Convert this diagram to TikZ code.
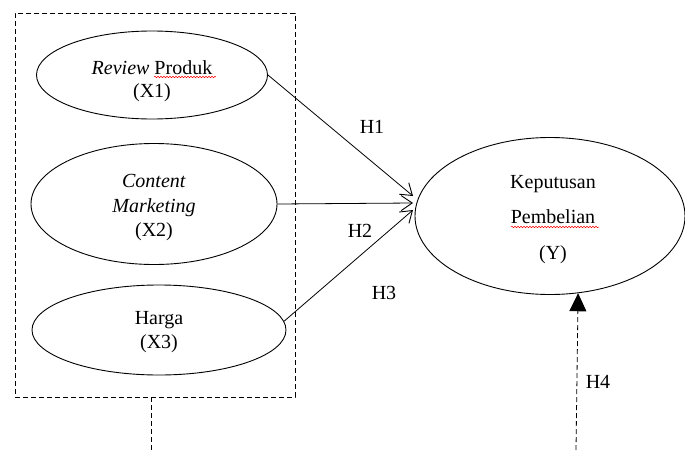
\documentclass[tikz,border=0pt]{standalone}
\usepackage{fontspec}
\setmainfont{Liberation Serif}
\usetikzlibrary{shapes.geometric,arrows.meta,decorations.pathmorphing}
\begin{document}
\begin{tikzpicture}[x=1pt,y=-1pt,
  every node/.style={font=\fontsize{20}{24}\selectfont},
  var/.style={draw, ellipse, line width=0.9pt, inner sep=0pt},
  txt/.style={inner sep=0pt, align=center},
  lbl/.style={inner sep=0pt},
  link/.style={draw, line width=0.8pt, -{Straight Barb[length=11pt,width=15pt,line width=0.9pt]}},
  dashline/.style={line width=0.8pt, dash pattern=on 5pt off 3pt},
  squig/.style={draw=red, line width=0.5pt, decorate, decoration={snake, amplitude=0.8pt, segment length=3pt}}
]
\useasboundingbox (0,0) rectangle (685,450);
% group box
\node[draw, dashline, minimum width=280pt, minimum height=384pt, inner sep=0pt] (grp) at (155,205) {};
\coordinate (g0) at (151,397);
\coordinate (g1) at (151,450);
\draw[dashline] (g0) -- (g1);
% variables
\node[var, minimum width=231pt, minimum height=88pt] (X1) at (152,75) {};
\node[txt] (X1t) at (152,81) {\textit{Review} Produk\\[-1pt](X1)};
\node[var, minimum width=246pt, minimum height=121pt] (X2) at (154,204) {};
\node[txt] (X2t) at (154,208) {\textit{Content}\\[1pt]\textit{Marketing}\\(X2)};
\node[var, minimum width=254pt, minimum height=90pt] (X3) at (159,330) {};
\node[txt] (X3t) at (159,332) {Harga\\(X3)};
\node[var, minimum width=270pt, minimum height=157pt] (Y) at (550,216) {};
\node[txt] (Yt) at (553,220) {Keputusan\\[11pt]Pembelian\\[12pt](Y)};
% spell-check marks
\coordinate (s1a) at (154,77);
\coordinate (s1b) at (216,77);
\coordinate (s2a) at (511,227);
\coordinate (s2b) at (599,227);
\draw[squig] (s1a) -- (s1b);
\draw[squig] (s2a) -- (s2b);
% arrows
\coordinate (t1) at (413,196);
\coordinate (t2) at (413,203);
\coordinate (t3) at (413,210);
\draw[link] (X1.east) -- (t1);
\draw[link] (X2.east) -- (t2);
\draw[link] (X3.4) -- (t3);
\node[lbl] (h1) at (372,127) {H1};
\node[lbl] (h2) at (360,231) {H2};
\node[lbl] (h3) at (384,293) {H3};
% moderating arrow
\coordinate (m0) at (576,450);
\draw[dashline, -{Triangle[length=18pt,width=17pt]}] (m0) -- (Y.-70.5);
\node[lbl] (h4) at (598,382) {H4};
\end{tikzpicture}
\end{document}
